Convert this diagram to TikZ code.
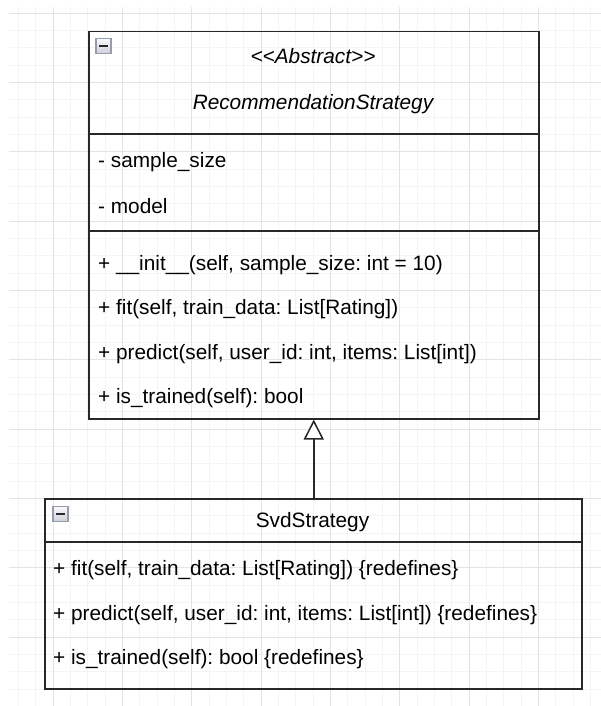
\documentclass[tikz,border=0pt]{standalone}
\usepackage{fontspec}
\setmainfont{Liberation Sans}
\usetikzlibrary{arrows.meta}
\definecolor{gridminor}{RGB}{244,244,244}
\definecolor{gridmajor}{RGB}{228,228,228}
\definecolor{umlline}{RGB}{40,40,40}
\definecolor{iconedge}{RGB}{150,156,175}
\definecolor{icontop}{RGB}{250,250,252}
\definecolor{iconbot}{RGB}{205,208,216}
\tikzset{
  classbox/.style={draw=umlline, line width=1.5pt, inner sep=0pt, anchor=north west},
  sepline/.style={draw=umlline, line width=1.5pt},
  member/.style={anchor=base west, inner sep=0pt, font=\fontsize{20.8}{24}\selectfont},
  title/.style={anchor=base, inner sep=0pt, font=\fontsize{20.8}{24}\selectfont},
  realize/.style={draw=umlline, line width=1.5pt,
    -{Triangle[length=20pt, width=20pt, fill=white, line width=1.5pt]}},
  gminor/.style={draw=gridminor, line width=0.8pt},
  gmajor/.style={draw=gridmajor, line width=0.8pt},
}
\newcommand{\collapseicon}[2]{%
  \shade[top color=icontop, bottom color=iconbot, draw=iconedge, line width=1.2pt]
    (#1,#2) rectangle ++(15,15);
  \fill[umlline] ({#1+3.3},{#2+6.4}) rectangle ++(8.4,2.3);
}
\begin{document}
\frenchspacing
\begin{tikzpicture}[x=1pt, y=-1pt]
\useasboundingbox (0,0) rectangle (601,706);
\fill[white] (0,0) rectangle (601,706);

% background grid
\foreach \k in {-2,...,31}
  \draw[gminor] ({53+\k*17.3333},7) -- ({53+\k*17.3333},706);
\foreach \k in {0,...,40}
  \draw[gminor] (9,{13+\k*17.3333}) -- (601,{13+\k*17.3333});
\foreach \k in {0,...,8}
  \draw[gmajor] ({53+\k*69.3333},7) -- ({53+\k*69.3333},706);
\foreach \k in {0,...,10}
  \draw[gmajor] (9,{13+\k*69.3333}) -- (601,{13+\k*69.3333});

% abstract base class
\node[classbox, minimum width=450pt, minimum height=387pt] (abs) at (88,31) {};
\draw[sepline] (abs.west |- 0,134) -- (abs.east |- 0,134);
\draw[sepline] (abs.west |- 0,231) -- (abs.east |- 0,231);
\collapseicon{96}{38.5}
\node[title] (absstereo) at (313,64) {\itshape <\kern0pt<Abstract>\kern0pt>};
\node[title] (absname) at (313,110) {\itshape RecommendationStrategy};
\node[member] (a1) at (98,167) {- sample\_size};
\node[member] (a2) at (98,213) {- model};
\node[member] (m1) at (98,270) {+ \_\_init\_\_(self, sample\_size: int = 10)};
\node[member] (m2) at (98,314.5) {+ fit(self, train\_data: List[Rating])};
\node[member] (m3) at (98,359) {+ predict(self, user\_id: int, items: List[int])};
\node[member] (m4) at (98,403.5) {+ is\_trained(self): bool};

% concrete subclass
\node[classbox, minimum width=537pt, minimum height=190pt] (svd) at (44,498) {};
\draw[sepline] (svd.west |- 0,542) -- (svd.east |- 0,542);
\collapseicon{53}{506.5}
\node[title] (svdname) at (312.5,527) {SvdStrategy};
\node[member] (s1) at (53,575) {+ fit(self, train\_data: List[Rating]) \{redefines\}};
\node[member] (s2) at (53,620) {+ predict(self, user\_id: int, items: List[int]) \{redefines\}};
\node[member] (s3) at (53,664.5) {+ is\_trained(self): bool \{redefines\}};

% generalization
\draw[realize] (svd.north -| abs.south) -- (abs.south);
\end{tikzpicture}
\end{document}
